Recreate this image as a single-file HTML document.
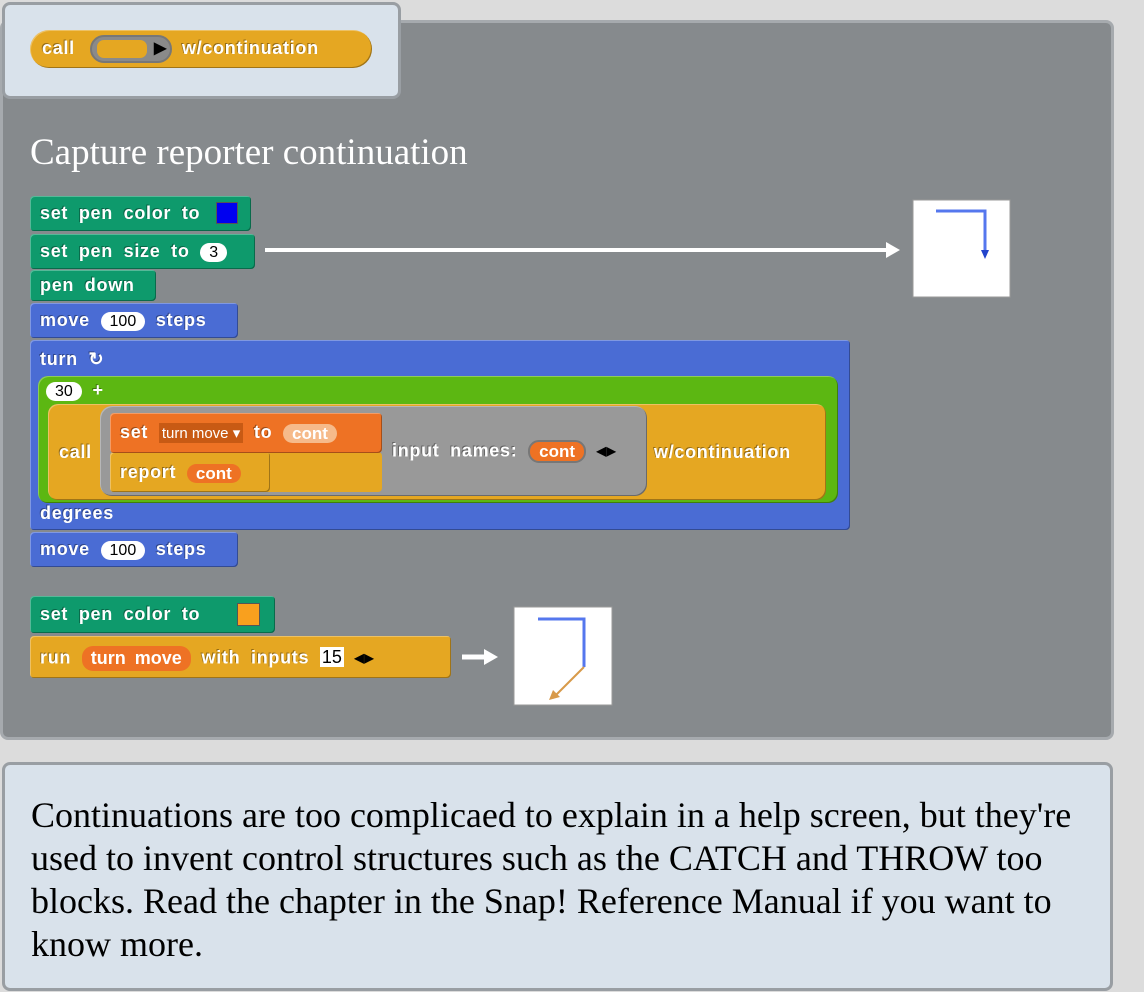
<!DOCTYPE html>
<html><head><meta charset="utf-8"><style>
body{margin:0;width:1144px;height:992px;background:#dcdcdc;position:relative;overflow:hidden;font-family:"Liberation Sans",sans-serif}
.a{position:absolute;box-sizing:border-box}
.b{position:absolute;box-sizing:border-box;border-radius:4px;color:#fff;font-weight:bold;font-size:18px;letter-spacing:0.7px;text-shadow:-1px -1px 0 rgba(0,0,0,.35);white-space:nowrap;word-spacing:5px;box-shadow:inset 1px 1px 0 rgba(255,255,255,.3),inset -1px -1px 0 rgba(0,0,0,.3)}
.t{position:absolute;white-space:nowrap}
.in{display:inline-block;background:#fff;color:#000;border-radius:11px;font-weight:normal;text-shadow:none;padding:0 9px;line-height:19px;font-size:16px;letter-spacing:0;word-spacing:0;vertical-align:middle}
.g{background:#0e9a6c}.bl{background:#4a6cd4}.o{background:#e5a722}.r{background:#ee7224}
</style></head><body>
<div class="a" style="left:0;top:20px;width:1114px;height:720px;background:#868a8d;border:3px solid #a6aaae;border-radius:8px"></div>
<div class="a" style="left:2px;top:2px;width:399px;height:97px;background:#d9e2eb;border:3px solid #999ea3;border-radius:8px"></div>
<div class="b o" style="left:30px;top:30px;width:342px;height:38px;border-radius:19px">
 <span class="t" style="left:12px;top:8px">call</span>
 <div class="a" style="left:60px;top:5px;width:82px;height:28px;background:#8a8a8a;border-radius:14px;border:2px solid #777"></div>
 <div class="a" style="left:67px;top:10px;width:50px;height:18px;background:#e5a722;border-radius:7px"></div>
 <span class="t" style="left:124px;top:8px;color:#000;text-shadow:none;font-size:16px">▶</span>
 <span class="t" style="left:152px;top:8px">w/continuation</span>
</div>
<div class="t" style="left:30px;top:131px;font-family:'Liberation Serif',serif;font-size:37px;color:#fff">Capture reporter continuation</div>

<div class="b g" style="left:30px;top:196px;width:221px;height:35px"><span class="t" style="left:10px;top:7px">set pen color to</span><div class="a" style="left:186px;top:6px;width:22px;height:22px;background:#0000f0;border:1px solid #555"></div></div>
<div class="b g" style="left:30px;top:234px;width:225px;height:35px"><span class="t" style="left:10px;top:7px">set pen size to <span class="in">3</span></span></div>
<div class="b g" style="left:30px;top:270px;width:126px;height:31px"><span class="t" style="left:10px;top:5px">pen down</span></div>
<div class="b bl" style="left:30px;top:303px;width:208px;height:35px"><span class="t" style="left:10px;top:7px">move <span class="in">100</span> steps</span></div>

<div class="b bl" style="left:30px;top:340px;width:820px;height:190px"><span class="t" style="left:10px;top:9px">turn ↻</span><span class="t" style="left:10px;top:163px">degrees</span></div>
<div class="b" style="left:38px;top:376px;width:800px;height:127px;background:#5cb712;border-radius:10px"><span class="t" style="left:8px;top:4px"><span class="in">30</span> +</span></div>
<div class="b o" style="left:48px;top:404px;width:778px;height:96px;border-radius:10px"><span class="t" style="left:11px;top:38px">call</span><span class="t" style="left:606px;top:38px">w/continuation</span></div>
<div class="b" style="left:100px;top:406px;width:547px;height:90px;background:#999;border-radius:12px"><span class="t" style="left:292px;top:34px">input names: <span class="in" style="background:#ee7224;color:#fff;font-weight:bold;font-size:17px;border:2px solid #777">cont</span> <span style="color:#000;text-shadow:none">◂▸</span></span></div>
<div class="a" style="left:110px;top:452px;width:272px;height:40px;background:#e5a722;border-radius:4px"></div>
<div class="b o" style="left:110px;top:452px;width:160px;height:40px"><span class="t" style="left:10px;top:10px">report <span class="in" style="background:#ee7224;color:#fff;font-weight:bold;font-size:17px">cont</span></span></div>
<div class="b r" style="left:110px;top:413px;width:272px;height:40px"><span class="t" style="left:10px;top:9px">set <span style="display:inline-block;background:#c85a14;font-weight:normal;font-size:15px;letter-spacing:0;word-spacing:0;padding:1px 3px;text-shadow:none">turn move ▾</span> to <span class="in" style="background:#f6ba8a;color:#fff;font-weight:bold;font-size:17px">cont</span></span></div>

<div class="b bl" style="left:30px;top:532px;width:208px;height:35px"><span class="t" style="left:10px;top:7px">move <span class="in">100</span> steps</span></div>

<div class="b g" style="left:30px;top:596px;width:245px;height:37px"><span class="t" style="left:10px;top:8px">set pen color to</span><div class="a" style="left:207px;top:7px;width:23px;height:23px;background:#f9a01e;border:1px solid #555"></div></div>
<div class="b o" style="left:30px;top:636px;width:421px;height:42px"><span class="t" style="left:10px;top:10px">run <span class="in" style="background:#ee7224;color:#fff;font-weight:bold;font-size:18px;line-height:25px;word-spacing:4px">turn move</span> with inputs <span style="display:inline-block;background:#fff;color:#000;text-shadow:none;font-weight:normal;letter-spacing:0;padding:0 2px;line-height:20px">15</span> <span style="color:#000;text-shadow:none">◂▸</span></span></div>

<svg class="a" style="left:0;top:0" width="1144" height="992">
<line x1="265" y1="250" x2="888" y2="250" stroke="#fff" stroke-width="4"/><polygon points="886,242 900,250 886,258" fill="#fff"/>
<line x1="462" y1="657" x2="486" y2="657" stroke="#fff" stroke-width="5"/><polygon points="484,649 498,657 484,665" fill="#fff"/>
<rect x="913" y="200" width="97" height="97" fill="#fff" stroke="#999"/>
<path d="M936 211 H985 V252" stroke="#5577ee" stroke-width="3" fill="none"/><polygon points="981,250 989,250 985,259" fill="#2244cc"/>
<rect x="514" y="607" width="98" height="98" fill="#fff" stroke="#999"/>
<path d="M538 619 H584 V667" stroke="#5577ee" stroke-width="3" fill="none"/>
<line x1="584" y1="667" x2="553" y2="698" stroke="#d89a4a" stroke-width="2"/><polygon points="549,700 553,690 560,697" fill="#d89a4a"/>
</svg>

<div class="a" style="left:2px;top:762px;width:1111px;height:229px;background:#d9e2eb;border:3px solid #999ea3;border-radius:8px"></div>
<div class="a" style="left:31px;top:794px;white-space:nowrap;font-family:'Liberation Serif',serif;font-size:36px;line-height:43px;color:#000">Continuations are too complicaed to explain in a help screen, but they're<br>used to invent control structures such as the CATCH and THROW too<br>blocks. Read the chapter in the Snap! Reference Manual if you want to<br>know more.</div>
</body></html>
